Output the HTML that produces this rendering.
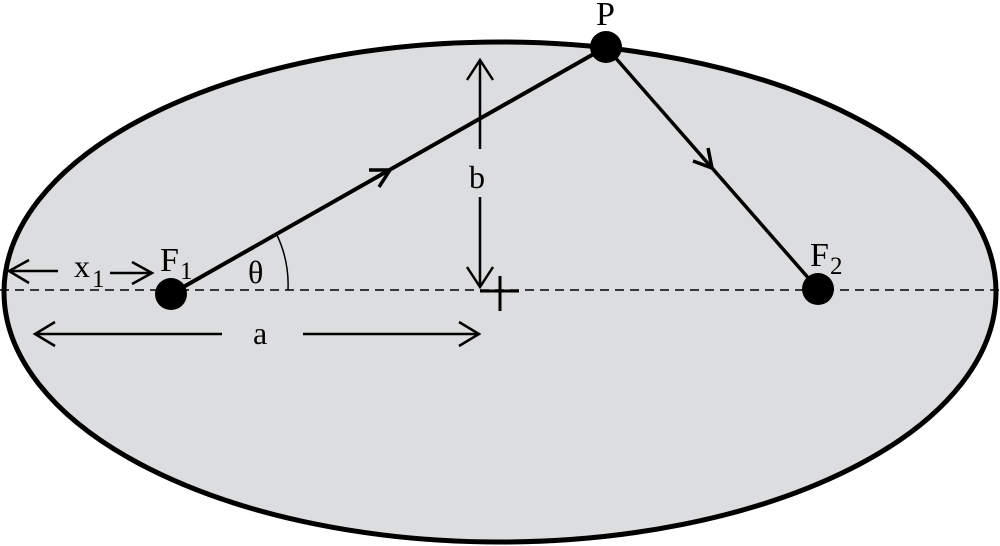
<!DOCTYPE html>
<html><head><style>html,body{margin:0;padding:0;background:#fff;width:1000px;height:546px;overflow:hidden}</style></head>
<body>
<svg width="1000" height="546" viewBox="0 0 1000 546" xmlns="http://www.w3.org/2000/svg" font-family="Liberation Serif, serif">
<ellipse cx="500" cy="292" rx="496" ry="250" fill="#dcddde" stroke="#000" stroke-width="5"/>
<line x1="0" y1="290" x2="1000" y2="290" stroke="#000" stroke-width="1.5" stroke-dasharray="9,6"/>
<line x1="171" y1="294" x2="606" y2="47" stroke="#000" stroke-width="4"/>
<line x1="606" y1="47" x2="818" y2="289" stroke="#000" stroke-width="3.5"/>
<polyline points="369,170 390,170 379,187" fill="none" stroke="#000" stroke-width="3.5"/>
<polyline points="693,161 712,168 708,148" fill="none" stroke="#000" stroke-width="3.5"/>
<circle cx="171" cy="294" r="16" fill="#000"/>
<circle cx="606" cy="47" r="16" fill="#000"/>
<circle cx="818" cy="289" r="16" fill="#000"/>
<path d="M276,233 A117,117 0 0 1 288,290" fill="none" stroke="#000" stroke-width="1.5"/>
<line x1="500" y1="276" x2="500" y2="311" stroke="#000" stroke-width="3"/>
<line x1="480" y1="291" x2="519" y2="291" stroke="#000" stroke-width="3"/>
<line x1="480" y1="60" x2="480" y2="149" stroke="#000" stroke-width="2.5"/>
<line x1="480" y1="197" x2="480" y2="286" stroke="#000" stroke-width="2.5"/>
<polyline points="467,80 480,60 493,80" fill="none" stroke="#000" stroke-width="2.5"/>
<polyline points="467,267 480,287 493,267" fill="none" stroke="#000" stroke-width="2.5"/>
<line x1="35" y1="334" x2="222" y2="334" stroke="#000" stroke-width="2.5"/>
<line x1="303" y1="334" x2="479" y2="334" stroke="#000" stroke-width="2.5"/>
<polyline points="55,322 35,334 55,346" fill="none" stroke="#000" stroke-width="2.5"/>
<polyline points="459,322 479,334 459,346" fill="none" stroke="#000" stroke-width="2.5"/>
<line x1="9" y1="271" x2="58" y2="271" stroke="#000" stroke-width="2.5"/>
<line x1="110" y1="273" x2="152" y2="273" stroke="#000" stroke-width="2.5"/>
<polyline points="29,260 9,271 29,283" fill="none" stroke="#000" stroke-width="2.5"/>
<polyline points="132,262 152,273 132,284" fill="none" stroke="#000" stroke-width="2.5"/>
<text x="74" y="277" font-size="32">x</text><text x="92" y="287" font-size="25">1</text>
<text x="160" y="271" font-size="34">F</text><text x="180" y="279" font-size="25">1</text>
<text x="810" y="266" font-size="34">F</text><text x="830" y="274" font-size="25">2</text>
<text x="596" y="25" font-size="34">P</text>
<text x="469" y="188" font-size="32">b</text>
<text x="253" y="344" font-size="32">a</text>
<text x="248" y="283" font-size="32">θ</text>
</svg>
</body></html>
